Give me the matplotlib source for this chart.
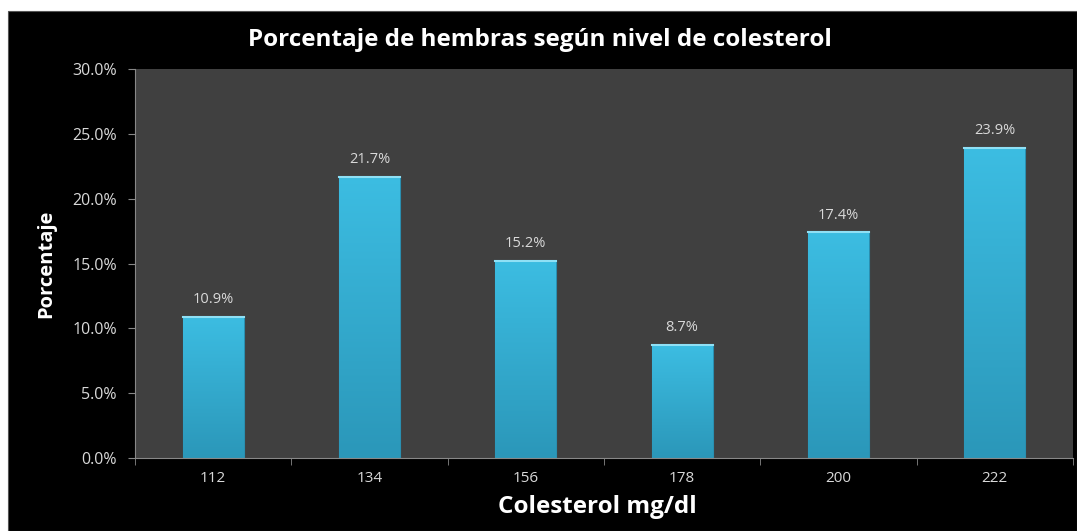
import matplotlib.pyplot as plt
from matplotlib.patches import Rectangle
from matplotlib.colors import LinearSegmentedColormap
import numpy as np

# data
categories = ['112', '134', '156', '178', '200', '222']
values = [10.9, 21.7, 15.2, 8.7, 17.4, 23.9]
yticks = [0, 5, 10, 15, 20, 25, 30]

title = 'Porcentaje de hembras según nivel de colesterol'
xlabel = 'Colesterol mg/dl'
ylabel = 'Porcentaje'

plt.rcParams['font.family'] = ['Open Sans', 'DejaVu Sans']

W, H = 1077, 531
fig = plt.figure(figsize=(W / 100, H / 100), dpi=100, facecolor='white')

# black frame behind the chart
fig.patches.append(Rectangle((8 / W, 0), 1 - 8 / W, 1 - 11 / H, transform=fig.transFigure,
                             facecolor='black', edgecolor='#555555', lw=0.8, zorder=-5))

ax = fig.add_axes([135 / W, 1 - 458 / H, (1073 - 135) / W, (458 - 69) / H])
ax.set_facecolor('#404040')

x = np.arange(len(categories))
bars = ax.bar(x, values, width=0.39, color='#35b2d8', edgecolor='#2a8fb0', lw=0.8, zorder=2)

# vertical gradient inside each bar
grad = np.linspace(0, 1, 256).reshape(-1, 1)
cmap = LinearSegmentedColormap.from_list('bar', ['#2b97b9', '#3cbde2'])
for b in bars:
    x0, w, h = b.get_x(), b.get_width(), b.get_height()
    im = ax.imshow(grad, extent=(x0, x0 + w, 0, h), origin='lower', cmap=cmap,
                   aspect='auto', zorder=2.5)
    im.set_clip_path(b)
    # light top edge
    ax.plot([x0, x0 + w], [h, h], color='#8fe0f5', lw=1.5, zorder=3)
    ax.text(x0 + w / 2, h + 0.75, f'{h:.1f}%', ha='center', va='bottom',
            color='#d9d9d9', fontsize=10.5)

ax.set_xlim(-0.5, len(categories) - 0.5)
ax.set_ylim(0, 30)
ax.set_yticks(yticks)
ax.set_yticklabels([f'{t:.1f}%' for t in yticks])
ax.set_xticks(x)
ax.set_xticklabels(categories)
ax.set_xticks(np.arange(len(categories) + 1) - 0.5, minor=True)
ax.tick_params(axis='x', which='major', length=0, colors='#d9d9d9', labelsize=11, pad=9)
ax.tick_params(axis='x', which='minor', length=5, color='#888888', direction='out')
ax.tick_params(axis='y', length=5, color='#888888', labelcolor='#d9d9d9', labelsize=11.5, pad=8)

for s in ['top', 'right']:
    ax.spines[s].set_visible(False)
for s in ['left', 'bottom']:
    ax.spines[s].set_color('#888888')
    ax.spines[s].set_linewidth(0.8)

fig.text(540 / W, 1 - 40 / H, title, ha='center', va='center', color='white',
         fontsize=17.5, fontweight='bold')
fig.text(597 / W, 1 - 507 / H, xlabel, ha='center', va='center', color='white',
         fontsize=17.5, fontweight='bold')
fig.text(46 / W, 1 - 264 / H, ylabel, ha='center', va='center', color='white',
         fontsize=14.5, fontweight='bold', rotation=90)

fig.savefig('out.png', dpi=100, facecolor='white')
